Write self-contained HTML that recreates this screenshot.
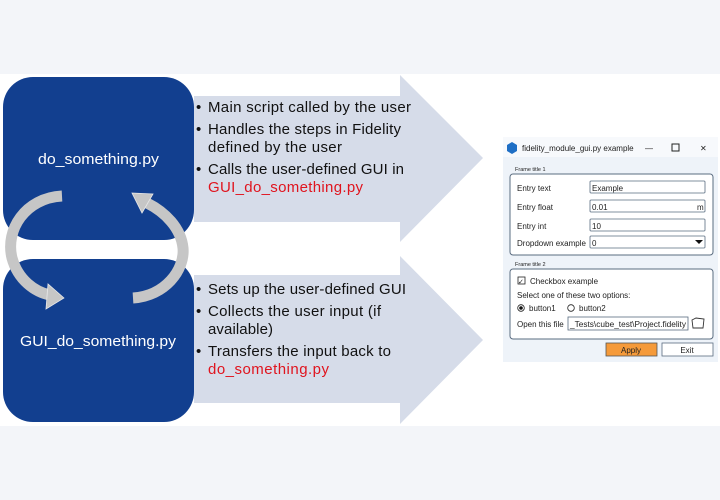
<!DOCTYPE html>
<html><head><meta charset="utf-8"><style>
html,body{margin:0;padding:0;background:#f3f5f9;}
svg{display:block;font-family:"Liberation Sans",sans-serif;}
</style></head><body>
<svg width="720" height="500" viewBox="0 0 720 500" xmlns="http://www.w3.org/2000/svg">
<rect x="0" y="0" width="720" height="500" fill="#f3f5f9"/>
<rect x="0" y="74" width="720" height="352" fill="#ffffff"/>
<polygon points="194,96 400,96 400,75 483,158 400,242 400,222 194,222" fill="#d6dce9"/>
<polygon points="194,275 400,275 400,256 483,340 400,424 400,403 194,403" fill="#d6dce9"/>
<rect x="3" y="77" width="191" height="163" rx="30" fill="#123f8f"/>
<rect x="3" y="259" width="191" height="163" rx="30" fill="#123f8f"/>
<text x="38" y="164" fill="#fff" font-size="15" textLength="121" lengthAdjust="spacingAndGlyphs">do_something.py</text>
<text x="20" y="346" fill="#fff" font-size="15" textLength="156" lengthAdjust="spacingAndGlyphs">GUI_do_something.py</text>
<g fill="none" stroke="#c6c6c6" stroke-width="11">
<path d="M62,196 C25,198 5,230 12,258 C18,280 35,292 50,295"/>
<path d="M133,298 C165,296 185,270 183,248 C181,228 165,212 147,203"/>
</g>
<g fill="#c6c6c6" stroke="#e8e8e8" stroke-width="0.8">
<polygon points="64,298 48,284 46,309"/>
<polygon points="132,193 153,194 142,213"/>
</g>
<g font-size="15" fill="#111" lengthAdjust="spacingAndGlyphs">
<text x="196" y="112">•</text><text x="208" y="112" textLength="203">Main script called by the user</text>
<text x="196" y="134">•</text><text x="208" y="134" textLength="193">Handles the steps in Fidelity</text>
<text x="208" y="152" textLength="134">defined by the user</text>
<text x="196" y="174">•</text><text x="208" y="174" textLength="196">Calls the user-defined GUI in</text>
<text x="208" y="192" fill="#e0141e" textLength="155">GUI_do_something.py</text>
<text x="196" y="294">•</text><text x="208" y="294" textLength="198">Sets up the user-defined GUI</text>
<text x="196" y="316">•</text><text x="208" y="316" textLength="173">Collects the user input (if</text>
<text x="208" y="334" textLength="65">available)</text>
<text x="196" y="356">•</text><text x="208" y="356" textLength="183">Transfers the input back to</text>
<text x="208" y="374" fill="#e0141e" textLength="121">do_something.py</text>
</g>
<rect x="503" y="137" width="215" height="225" fill="#eef3f9"/>
<rect x="503" y="137" width="215" height="20" fill="#f7f9fc"/>
<polygon points="512,142 517,145 517,151 512,154 507,151 507,145" fill="#1f6fc5"/>
<g font-size="8" fill="#222">
<text x="522" y="151">fidelity_module_gui.py example</text>
<text x="645" y="151">—</text>
<rect x="672" y="144" width="7" height="7" fill="none" stroke="#222" stroke-width="1"/>
<text x="700" y="151">✕</text>
<text x="515" y="171" font-size="5.5">Frame title 1</text>
<rect x="510" y="174" width="203" height="81" rx="3" fill="#fff" stroke="#5a6c80" stroke-width="1"/>
<text x="517" y="191">Entry text</text>
<text x="517" y="210">Entry float</text>
<text x="517" y="229">Entry int</text>
<text x="517" y="246">Dropdown example</text>
<g fill="#fff" stroke="#5a6c80" stroke-width="0.8">
<rect x="590" y="181" width="115" height="12" rx="1"/>
<rect x="590" y="200" width="115" height="12" rx="1"/>
<rect x="590" y="219" width="115" height="12" rx="1"/>
<rect x="590" y="236" width="115" height="12" rx="1"/>
</g>
<text x="592" y="191">Example</text>
<text x="592" y="210">0.01</text><text x="697" y="210">m</text>
<text x="592" y="229">10</text>
<text x="592" y="246">0</text>
<polygon points="695,240 703,240 699,244" fill="#111"/>
<text x="515" y="266" font-size="5.5">Frame title 2</text>
<rect x="510" y="269" width="203" height="70" rx="3" fill="#fff" stroke="#5a6c80" stroke-width="1"/>
<rect x="518" y="277" width="7" height="7" fill="#fff" stroke="#222" stroke-width="0.8"/>
<text x="518" y="284" font-size="7">✓</text>
<text x="530" y="284">Checkbox example</text>
<text x="517" y="298">Select one of these two options:</text>
<circle cx="521" cy="308" r="3.3" fill="#fff" stroke="#222" stroke-width="0.8"/>
<circle cx="521" cy="308" r="1.8" fill="#111"/>
<text x="529" y="311">button1</text>
<circle cx="571" cy="308" r="3.3" fill="#fff" stroke="#222" stroke-width="0.8"/>
<text x="579" y="311">button2</text>
<text x="517" y="327">Open this file</text>
<rect x="568" y="317" width="120" height="13" fill="#fff" stroke="#5a6c80" stroke-width="0.8"/>
<text x="570" y="327" textLength="116" lengthAdjust="spacingAndGlyphs">_Tests\cube_test\Project.fidelity</text>
<path d="M692,320 l4,-2 l8,1 l-1,9 l-10,0 z" fill="none" stroke="#333" stroke-width="0.9"/>
<rect x="606" y="343" width="51" height="13" fill="#f59a3a" stroke="#555" stroke-width="0.8"/>
<text x="631" y="353" text-anchor="middle">Apply</text>
<rect x="662" y="343" width="51" height="13" fill="#fff" stroke="#5a6c80" stroke-width="0.8"/>
<text x="687" y="353" text-anchor="middle">Exit</text>
</g>
</svg>
</body></html>
